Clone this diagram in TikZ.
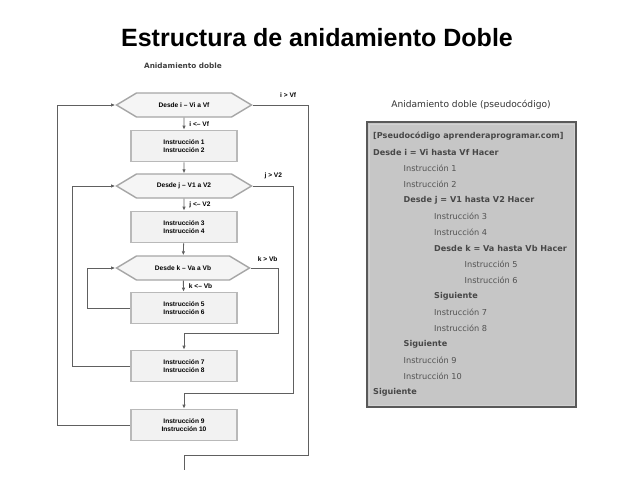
\documentclass[tikz,border=0pt]{standalone}
\usepackage{fontspec}
\setmainfont{Liberation Sans}
\newfontfamily\pcfont{DejaVu Sans}
\usetikzlibrary{arrows.meta,positioning,shapes.symbols}

\begin{document}
\begin{tikzpicture}[
    >=Latex,
    x=1pt,
    y=-1pt,
    hexbox/.style={signal, signal to=west and east, signal pointer angle=62,
        draw=gray!70, line width=1.4pt, fill=gray!8, minimum width=135pt,
        minimum height=24pt, inner sep=0pt, font=\fontsize{6.6pt}{7.5pt}\selectfont\bfseries},
    instbox/.style={rectangle, draw=gray!55, line width=1.6pt, fill=gray!10,
        minimum width=106pt, minimum height=31pt, align=center,
        font=\fontsize{6.6pt}{7.8pt}\selectfont\bfseries},
    flowline/.style={draw=gray!75!black, line width=0.9pt},
    flowarrow/.style={flowline, -{Latex[length=4pt,width=3.5pt]}},
    steplabel/.style={font=\fontsize{6.6pt}{7.5pt}\selectfont\bfseries, inner sep=1pt},
    pcplain/.style={anchor=west, text=black!68, inner sep=0pt, font=\pcfont\fontsize{8.2pt}{9pt}\selectfont},
    pcbold/.style={anchor=west, text=black!72, inner sep=0pt, font=\pcfont\fontsize{8.1pt}{9pt}\selectfont\bfseries}
]

% 1. Canvas
\useasboundingbox (0,0) rectangle (638,479);
\node[font=\fontsize{25pt}{28pt}\selectfont\bfseries] (title) at (317,38) {Estructura de anidamiento Doble};

% 2. Flowchart (left)
\node[font=\pcfont\fontsize{7.3pt}{8pt}\selectfont\bfseries, text=black!75] (flowtitle) at (183,66) {Anidamiento doble};

\node[hexbox] (hex1) at (184,105) {Desde i -- Vi a Vf};
\node[instbox] (inst12) at (184,146) {Instrucción 1\\Instrucción 2};
\node[hexbox] (hex2) at (184,186) {Desde j -- V1 a V2};
\node[instbox] (inst34) at (184,227) {Instrucción 3\\Instrucción 4};
\node[hexbox, minimum width=133pt] (hex3) at (183,268) {Desde k -- Va a Vb};
\node[instbox] (inst56) at (184,308) {Instrucción 5\\Instrucción 6};
\node[instbox] (inst78) at (184,366) {Instrucción 7\\Instrucción 8};
\node[instbox] (inst910) at (184,425) {Instrucción 9\\Instrucción 10};

\coordinate[above=16pt of inst78] (kexit);
\coordinate[above=15pt of inst910] (jexit);
\coordinate (iexit) at (184,455);
\coordinate (flowend) at (184,470);

% 3. Straight arrows
\draw[flowarrow] (hex1) -- node[right=4pt, steplabel] {i <-- Vf} (inst12);
\draw[flowarrow] (inst12) -- (hex2);
\draw[flowarrow] (hex2) -- node[right=4pt, steplabel] {j <-- V2} (inst34);
\draw[flowarrow] (inst34) -- (hex3);
\draw[flowarrow] (hex3) -- node[right=4pt, steplabel] {k <-- Vb} (inst56);

% 4. Loop returns
\draw[flowarrow] (inst56.west) -- ++(-43,0) |- (hex3.west);
\draw[flowarrow] (inst78.west) -- ++(-58,0) |- (hex2.west);
\draw[flowarrow] (inst910.west) -- ++(-73,0) |- (hex1.west);

% 5. Loop exits
\draw[flowarrow] (hex3.east) -- node[pos=0.6, above=5pt, steplabel] {k > Vb} ++(28,0) |- (kexit) -- (inst78);
\draw[flowarrow] (hex2.east) -- node[pos=0.5, above=6pt, steplabel] {j > V2} ++(41,0) |- (jexit) -- (inst910);
\draw[flowline] (hex1.east) -- node[pos=0.63, above=6pt, steplabel] {i > Vf} ++(56,0) |- (iexit) -- (flowend);

% 6. Pseudocode panel (right)
\node[font=\pcfont\fontsize{9.1pt}{10pt}\selectfont, text=black!80] (pctitle) at (471,105) {Anidamiento doble (pseudocódigo)};
\draw[draw=gray!70!black, line width=1.6pt, fill=gray!45] (367,122) rectangle (576,407);
\draw[draw=gray!35, line width=0.5pt] (369,124) rectangle (574,405);

\foreach \ind/\sty/\txt [count=\n] in {
    0/pcbold/{[Pseudocódigo aprenderaprogramar.com]},
    0/pcbold/{Desde i = Vi hasta Vf Hacer},
    1/pcplain/{Instrucción 1},
    1/pcplain/{Instrucción 2},
    1/pcbold/{Desde j = V1 hasta V2 Hacer},
    2/pcplain/{Instrucción 3},
    2/pcplain/{Instrucción 4},
    2/pcbold/{Desde k = Va hasta Vb Hacer},
    3/pcplain/{Instrucción 5},
    3/pcplain/{Instrucción 6},
    2/pcbold/{Siguiente},
    2/pcplain/{Instrucción 7},
    2/pcplain/{Instrucción 8},
    1/pcbold/{Siguiente},
    1/pcplain/{Instrucción 9},
    1/pcplain/{Instrucción 10},
    0/pcbold/{Siguiente}} {
    \node[\sty] (pc\n) at ({373+30.5*\ind}, {136+16*(\n-1)}) {\txt};
}

\end{tikzpicture}
\end{document}
